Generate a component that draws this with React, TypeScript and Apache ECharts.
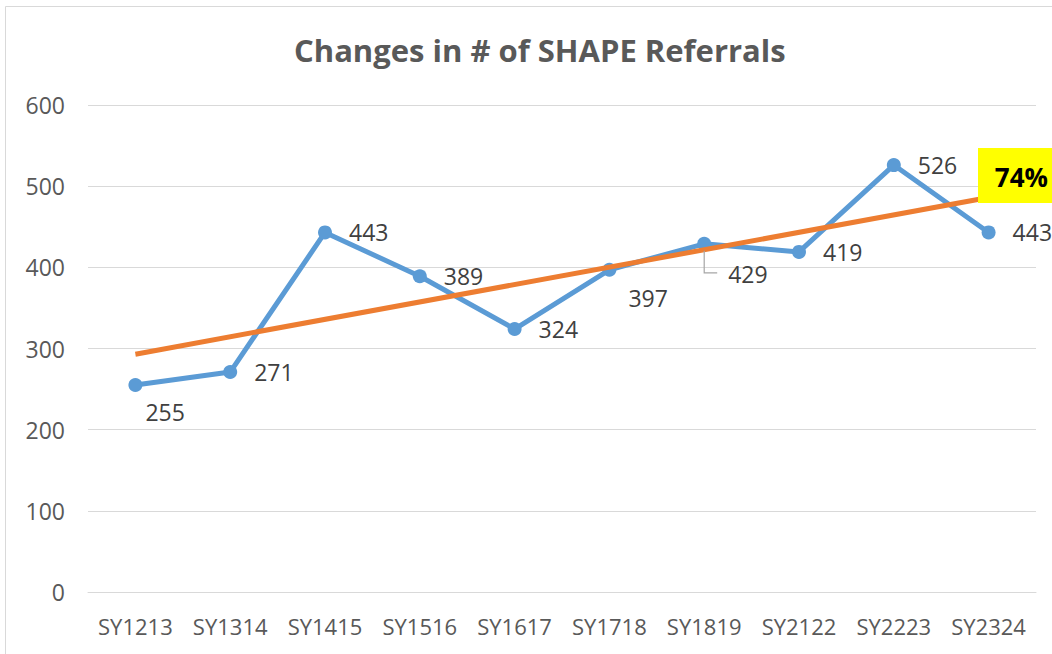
import React, { useEffect, useRef } from "react";
import * as echarts from "echarts";

const categories = ["SY1213", "SY1314", "SY1415", "SY1516", "SY1617", "SY1718", "SY1819", "SY2122", "SY2223", "SY2324"];
const referrals = [255, 271, 443, 389, 324, 397, 429, 419, 526, 443];
// trendline endpoints (first and last category)
const trendStart = 293;
const trendEnd = 486;
const yTicks = { min: 0, max: 600, interval: 100 };
const titleText = "Changes in # of SHAPE Referrals";
const trendLabel = "74%";

// per-point label offsets (index -> [dx, dy])
const labelOffsets: Record<number, [number, number]> = {
  0: [-14, 27],
  5: [-5, 28],
  6: [0, 30],
};

export default function App() {
  const ref = useRef<HTMLDivElement>(null);
  useEffect(() => {
    if (!ref.current) return;
    const chart = echarts.init(ref.current, null, { renderer: "svg" });
    const font = "'Open Sans', 'Noto Sans', sans-serif";
    const trendData = categories.map((_, i) => (i === 0 ? trendStart : i === categories.length - 1 ? trendEnd : null));
    const option: any = {
      animation: false,
      backgroundColor: "#ffffff",
      title: {
        text: titleText,
        left: 289,
        top: 29,
        textStyle: { fontFamily: font, fontSize: 31, fontWeight: "bold", color: "#595959" },
      },
      grid: { left: 88, right: 16, top: 105, bottom: 62, containLabel: false },
      xAxis: {
        type: "category",
        data: categories,
        boundaryGap: true,
        axisLine: { show: true, lineStyle: { color: "#d9d9d9", width: 1 } },
        axisTick: { show: false },
        axisLabel: { color: "#595959", fontFamily: font, fontSize: 22, margin: 23, interval: 0 },
      },
      yAxis: {
        type: "value",
        min: yTicks.min,
        max: yTicks.max,
        interval: yTicks.interval,
        axisLine: { show: false },
        axisTick: { show: false },
        splitLine: { show: true, lineStyle: { color: "#d9d9d9", width: 1 } },
        axisLabel: { color: "#595959", fontFamily: font, fontSize: 23, margin: 23 },
      },
      series: [
        {
          name: "Referrals",
          type: "line",
          data: referrals.map((v, i) => {
            const off = labelOffsets[i];
            return off ? { value: v, label: { offset: off } } : v;
          }),
          symbol: "circle",
          symbolSize: 14,
          lineStyle: { color: "#5B9BD5", width: 5 },
          itemStyle: { color: "#5B9BD5" },
          label: {
            show: true,
            position: "right",
            distance: 17,
            color: "#404040",
            fontFamily: font,
            fontSize: 23,
          },
          z: 2,
        },
        {
          name: "Trend",
          type: "line",
          data: trendData,
          connectNulls: true,
          symbol: "none",
          lineStyle: { color: "#ED7D31", width: 5 },
          z: 3,
        },
      ],
    };
    chart.setOption(option);

    const p = chart.convertToPixel({ seriesIndex: 0 }, [6, referrals[6]]) as number[];
    chart.setOption({
      graphic: [
        {
          type: "rect",
          shape: { x: 5.5, y: 6.5, width: 1100, height: 700 },
          style: { fill: "none", stroke: "#d9d9d9", lineWidth: 1 },
          silent: true,
          z: -10,
        },
        {
          type: "polyline",
          shape: { points: [[p[0], p[1] + 7], [p[0], p[1] + 29], [p[0] + 13, p[1] + 29]] },
          style: { stroke: "#a6a6a6", lineWidth: 1.2, fill: "none" },
          z: 10,
        },
        {
          type: "rect",
          shape: { x: 978, y: 148, width: 80, height: 55 },
          style: { fill: "#ffff00" },
          z: 20,
        },
        {
          type: "text",
          x: 1048,
          y: 177,
          style: {
            text: trendLabel,
            fill: "#000000",
            font: `bold 26px ${font}`,
            textAlign: "right",
            textVerticalAlign: "middle",
          },
          z: 21,
        },
      ],
    });
    return () => chart.dispose();
  }, []);
  return <div ref={ref} style={{ position: "fixed", left: 0, top: 0, width: 1052, height: 654 }} />;
}
